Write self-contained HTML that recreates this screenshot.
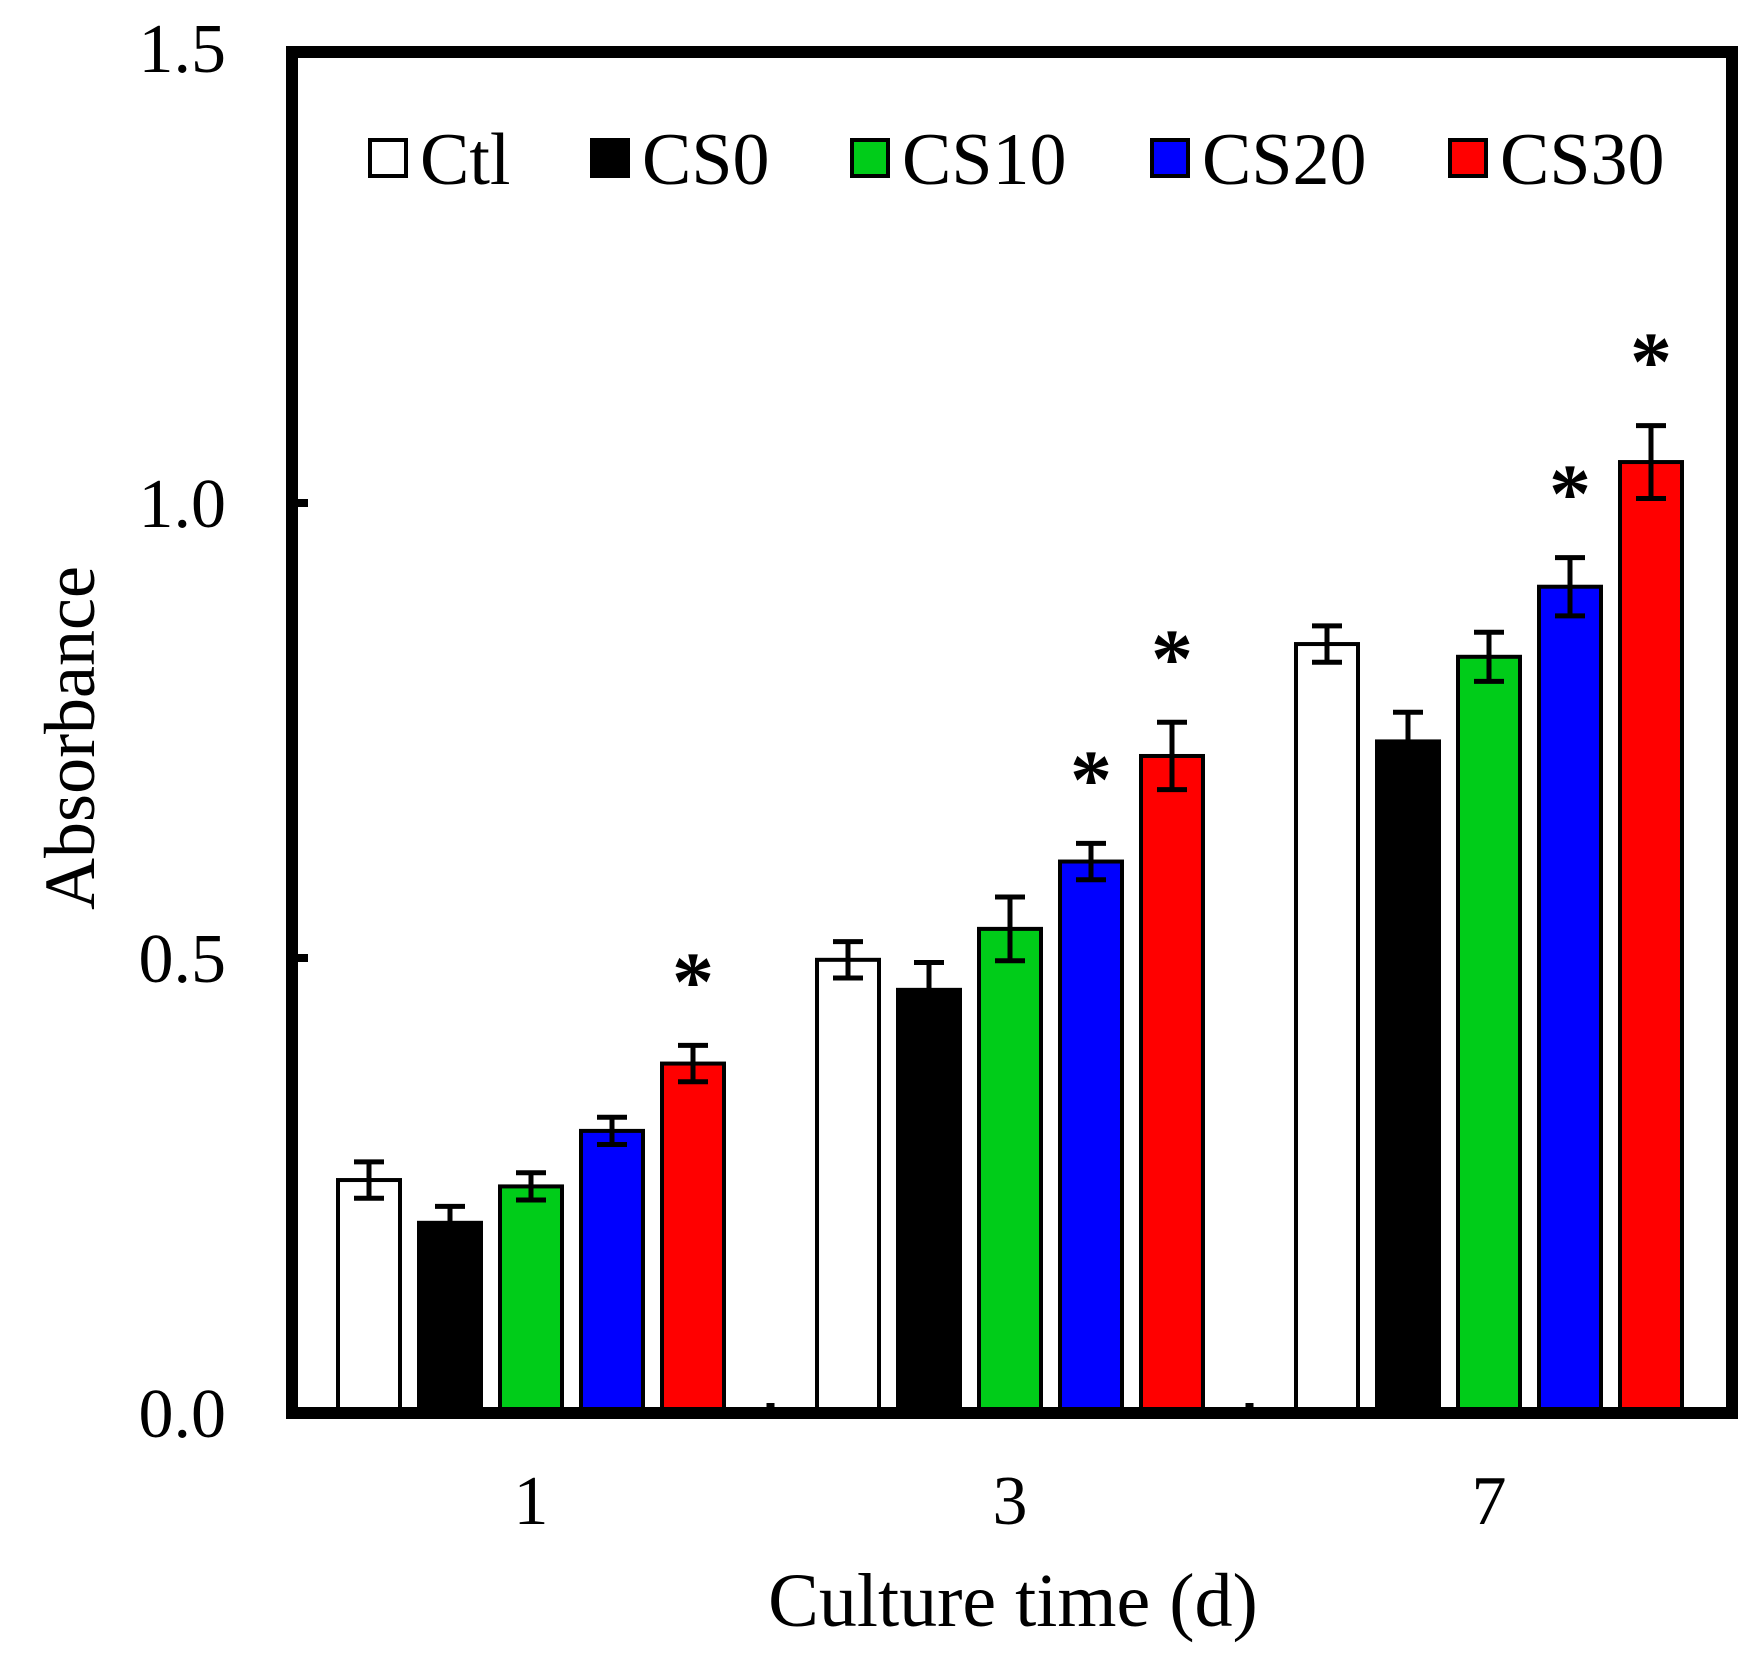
<!DOCTYPE html>
<html><head><meta charset="utf-8"><style>
html,body{margin:0;padding:0;background:#fff}
svg{display:block;font-family:"Liberation Serif",serif}
</style></head><body>
<svg id="chart" width="1760" height="1670" viewBox="0 0 1760 1670" xmlns="http://www.w3.org/2000/svg">
<g id="marks"></g>
<rect x="292" y="52" width="1440" height="1361" fill="none" stroke="#000" stroke-width="12"/>
<text x="0" y="0" transform="translate(94,738) rotate(-90)" text-anchor="middle" font-size="72">Absorbance</text>
<text x="1013" y="1626" text-anchor="middle" font-size="76">Culture time (d)</text>
<g id="legend"></g>
</svg>
<script>
const categories = ["1","3","7"];
const seriesNames = ["Ctl","CS0","CS10","CS20","CS30"];
const seriesColors = ["#ffffff","#000000","#00cc19","#0000ff","#ff0000"];
const ctlValues = [0.256,0.498,0.845];
const cs0Values = [0.209,0.465,0.738];
const cs10Values = [0.249,0.532,0.831];
const cs20Values = [0.310,0.606,0.908];
const cs30Values = [0.384,0.722,1.045];
const ctlErr = [0.020,0.020,0.020];
const cs0Err = [0.018,0.030,0.032];
const cs10Err = [0.015,0.035,0.027];
const cs20Err = [0.015,0.020,0.032];
const cs30Err = [0.020,0.037,0.040];
const ctlSig = [false,false,false];
const cs0Sig = [false,false,false];
const cs10Sig = [false,false,false];
const cs20Sig = [false,true,true];
const cs30Sig = [true,true,true];
const yTicks = [0,0.5,1.0,1.5];
const yTickLabels = ["0.0","0.5","1.0","1.5"];

const values=[ctlValues,cs0Values,cs10Values,cs20Values,cs30Values];
const errs=[ctlErr,cs0Err,cs10Err,cs20Err,cs30Err];
const sigs=[ctlSig,cs0Sig,cs10Sig,cs20Sig,cs30Sig];
const NS="http://www.w3.org/2000/svg";
const y0=1413, pxPerUnit=910;
function yScale(v){return y0-v*pxPerUnit;}
const groupStart=531, groupStep=479, barStep=81, barW=62;
function xCenter(ci,si){return groupStart+ci*groupStep+(si-2)*barStep;}
function mk(tag,attrs,parent){const e=document.createElementNS(NS,tag);for(const k in attrs)e.setAttribute(k,attrs[k]);parent.appendChild(e);return e;}
const g=document.getElementById('marks');
const svg=document.getElementById('chart');
categories.forEach((c,ci)=>{
  seriesNames.forEach((s,si)=>{
    const v=values[si][ci], xc=xCenter(ci,si), yt=yScale(v);
    const r=mk('rect',{x:xc-barW/2,y:yt,width:barW,height:y0-yt,fill:seriesColors[si],stroke:'#000','stroke-width':4},g);
    
    
    const e=errs[si][ci], yh=yScale(v+e), yl=yScale(v-e);
    const eb=mk('path',{d:`M${xc},${yh}V${yl}M${xc-15},${yh}H${xc+15}M${xc-15},${yl}H${xc+15}`,stroke:'#000','stroke-width':5,fill:'none'},g);
    
    
    if(sigs[si][ci]){
      const t=mk('text',{x:xc,y:yh-36,'text-anchor':'middle','font-size':84,'font-weight':'bold'},g);
      t.textContent='*';
      
      
    }
  });
  const tl=mk('text',{x:groupStart+ci*groupStep,y:1524,'text-anchor':'middle','font-size':70},svg);
  tl.textContent=c;
  
  
  if(ci>0){
    const tk=mk('line',{x1:groupStart+(ci-0.5)*groupStep,x2:groupStart+(ci-0.5)*groupStep,y1:y0,y2:y0-10,stroke:'#000','stroke-width':8},svg);
    
    
  }
});
yTicks.forEach((t,i)=>{
  const y=yScale(t);
  const tl=mk('text',{x:226,y:y+24,'text-anchor':'end','font-size':70},svg);
  tl.textContent=yTickLabels[i];
  
  
  if(t>0&&t<1.5){
    const tk=mk('line',{x1:298,x2:308,y1:y,y2:y,stroke:'#000','stroke-width':8},svg);
    
    
  }
});
const lg=document.getElementById('legend');
const legX=[370,592,852,1152,1450];
seriesNames.forEach((s,si)=>{
  const r=mk('rect',{x:legX[si],y:140,width:36,height:36,fill:seriesColors[si],stroke:'#000','stroke-width':4},lg);
  
  
  const t=mk('text',{x:legX[si]+50,y:184,'font-size':74},lg);
  t.textContent=s;
  
  
});
</script>
</body></html>
